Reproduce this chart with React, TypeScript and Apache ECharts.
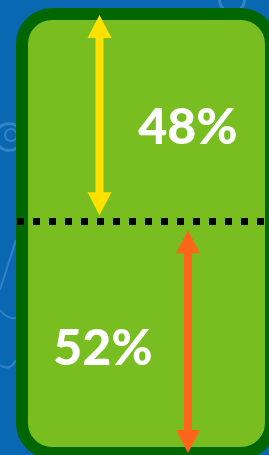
import React, { useEffect, useRef } from "react";
import * as echarts from "echarts";

// Data
const shareLabels = ["48%", "52%"];
const shares = [48, 52];
const arrowColors = ["#ffe100", "#ff661c"];

// Style constants (pixels)
const arrowX = [99.5, 188];
const labelX = [188, 103];
const labelDy = [9, 11];
const insets = [
  [4, 6],
  [9, -4],
];

export default function App() {
  const ref = useRef<HTMLDivElement>(null);
  useEffect(() => {
    if (!ref.current) return;
    const chart = echarts.init(ref.current, null, { renderer: "svg" });
    let acc = 0;
    const segs = shares.map((v, i) => {
      const s = acc;
      acc += v;
      return [s, acc, i];
    });
    const faint = "rgba(150,200,240,0.28)";
    chart.setOption({
      animation: false,
      backgroundColor: "#0a68b3",
      grid: { left: 17, right: 0, top: 11, bottom: 6 },
      xAxis: { type: "value", min: 0, max: 1, show: false },
      yAxis: { type: "value", min: 0, max: 100, inverse: true, show: false },
      graphic: [
        {
          type: "ring",
          z: 0,
          shape: { cx: 9, cy: 137, r: 15, r0: 12 },
          style: { fill: faint },
        },
        {
          type: "circle",
          z: 0,
          shape: { cx: 11, cy: 135, r: 6 },
          style: { fill: "none", stroke: faint, lineWidth: 2 },
        },
        {
          type: "ring",
          z: 0,
          shape: { cx: 232, cy: 0, r: 14, r0: 11 },
          style: { fill: faint },
        },
        {
          type: "polyline",
          z: 0,
          shape: { points: [[16, 240], [0, 290]] },
          style: { stroke: faint, lineWidth: 2, fill: "none" },
        },
        {
          type: "bezierCurve",
          z: 0,
          shape: { x1: 0, y1: 310, x2: 16, y2: 318, cpx1: 8, cpy1: 320 },
          style: { stroke: faint, lineWidth: 2, fill: "none" },
        },
        {
          type: "bezierCurve",
          z: 0,
          shape: { x1: 0, y1: 365, x2: 16, y2: 360, cpx1: 10, cpy1: 372 },
          style: { stroke: faint, lineWidth: 2, fill: "none" },
        },
        {
          type: "rect",
          z: 1,
          shape: { x: 22, y: 14, width: 249, height: 439, r: 30 },
          style: { fill: "#79be21", stroke: "#006600", lineWidth: 12 },
        },
      ],
      series: [
        {
          type: "custom",
          z: 5,
          data: segs,
          renderItem: (params: any, api: any) => {
            const start = api.value(0);
            const end = api.value(1);
            const i = api.value(2);
            const y0 = api.coord([0, start])[1] + insets[i][0];
            const y1 = api.coord([0, end])[1] - insets[i][1];
            const x = arrowX[i];
            const color = arrowColors[i];
            const hl = 23;
            const hw = 12;
            const mid = (api.coord([0, start])[1] + api.coord([0, end])[1]) / 2;
            return {
              type: "group",
              children: [
                {
                  type: "line",
                  shape: { x1: x, y1: y0 + hl - 2, x2: x, y2: y1 - hl + 2 },
                  style: { stroke: color, lineWidth: 8 },
                },
                {
                  type: "polygon",
                  shape: { points: [[x, y0], [x - hw, y0 + hl], [x + hw, y0 + hl]] },
                  style: { fill: color },
                },
                {
                  type: "polygon",
                  shape: { points: [[x, y1], [x - hw, y1 - hl], [x + hw, y1 - hl]] },
                  style: { fill: color },
                },
                {
                  type: "text",
                  style: {
                    text: shareLabels[i],
                    x: labelX[i],
                    y: mid + labelDy[i],
                    fill: "#ffffff",
                    fontSize: 50,
                    fontWeight: 900,
                    fontFamily: "Lato",
                    align: "center",
                    verticalAlign: "middle",
                  },
                },
              ],
            };
          },
          markLine: {
            silent: true,
            symbol: "none",
            label: { show: false },
            lineStyle: { color: "#000", width: 7, type: [7, 9], cap: "butt" },
            data: [{ yAxis: shares[0] }],
          },
        },
      ],
    });
    return () => chart.dispose();
  }, []);
  return (
    <div
      ref={ref}
      style={{ position: "fixed", left: 0, top: 0, width: 269, height: 455 }}
    />
  );
}
